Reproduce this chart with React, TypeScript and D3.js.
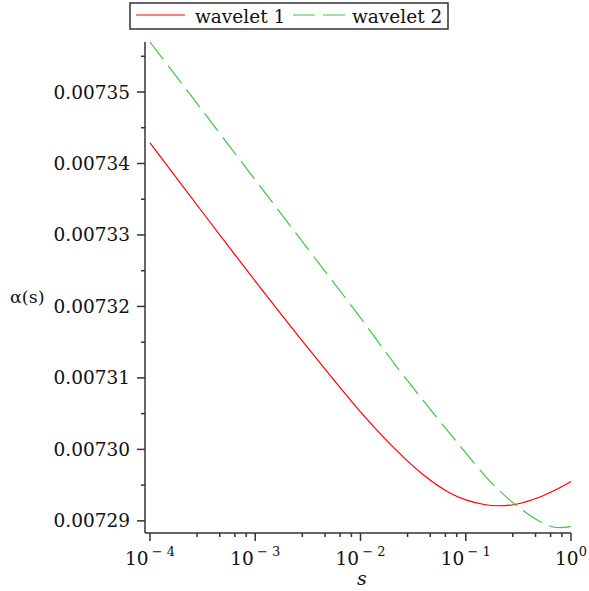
import React from "react";
import * as d3 from "d3";

const sValues = [1e-4, 3e-4, 1e-3, 3e-3, 1e-2, 0.02, 0.04, 0.07, 0.1, 0.15, 0.2, 0.3, 0.5, 0.7, 1];
const wavelet1 = [0.0073429, 0.0073336, 0.00732355, 0.00731463, 0.00730524, 0.00730046, 0.00729638, 0.00729394, 0.00729294, 0.00729229, 0.00729211, 0.00729232, 0.0072933, 0.00729427, 0.00729552];
const wavelet2 = [0.007357, 0.0073478, 0.0073377, 0.0073285, 0.0073184, 0.0073124, 0.0073067, 0.0073023, 0.0072995, 0.0072964, 0.0072945, 0.0072922, 0.00728995, 0.0072891, 0.0072892];
const yTicks = [0.00729, 0.0073, 0.00731, 0.00732, 0.00733, 0.00734, 0.00735];
const yTickLabels = ["0.00729", "0.00730", "0.00731", "0.00732", "0.00733", "0.00734", "0.00735"];
const yMinorTicks = [0.007295, 0.007305, 0.007315, 0.007325, 0.007335, 0.007345, 0.007355];
const xExponents = [-4, -3, -2, -1, 0];
const minorMultipliers = [2.8, 4.6, 6.4, 8.2];
const legendLabels = ["wavelet 1", "wavelet 2"];

const FONT = "DejaVu Serif";

export default function App() {
  const W = 589, H = 591;
  const x = d3.scaleLog().domain([1e-4, 1]).range([150, 571]);
  const y = d3.scaleLinear().domain([0.0072883, 0.007357]).range([533, 42]);
  const axisX = 145;
  const axisY = 533;

  const line = d3
    .line<number>()
    .x((_, i) => x(sValues[i]))
    .y((d) => y(d))
    .curve(d3.curveCatmullRom.alpha(0.5));

  const minorX: number[] = [];
  xExponents.slice(0, -1).forEach((e) => {
    minorMultipliers.forEach((m) => minorX.push(m * Math.pow(10, e)));
  });

  const axisColor = "#333";
  const green = "#3cc83c";

  return (
    <svg width={W} height={H} style={{ position: "absolute", left: 0, top: 0 }}>
      <rect x={0} y={0} width={W} height={H} fill="white" />
      {/* curves */}
      <path d={line(wavelet1) || ""} fill="none" stroke="#ff0000" strokeWidth={1.2} />
      <path d={line(wavelet2) || ""} fill="none" stroke={green} strokeWidth={1.2} strokeDasharray="22,8" />

      {/* y axis */}
      <line x1={axisX} x2={axisX} y1={y.range()[1]} y2={axisY} stroke={axisColor} strokeWidth={1.5} />
      {yTicks.map((t, i) => (
        <g key={"yt" + i}>
          <line x1={axisX - 8} x2={axisX} y1={y(t)} y2={y(t)} stroke={axisColor} strokeWidth={1.5} />
          <text x={130} y={y(t) + 6.5} textAnchor="end" fontFamily={FONT} fontSize={18.5} fill="#111">
            {yTickLabels[i]}
          </text>
        </g>
      ))}
      {yMinorTicks.map((t, i) => (
        <line key={"ym" + i} x1={axisX - 4} x2={axisX} y1={y(t)} y2={y(t)} stroke={axisColor} strokeWidth={1.5} />
      ))}

      {/* x axis */}
      <line x1={axisX} x2={x(1)} y1={axisY} y2={axisY} stroke={axisColor} strokeWidth={1.5} />
      {xExponents.map((e) => {
        const v = Math.pow(10, e);
        return (
          <g key={"xt" + e}>
            <line x1={x(v)} x2={x(v)} y1={axisY} y2={axisY + 8} stroke={axisColor} strokeWidth={1.5} />
            <text x={x(v)} y={565} textAnchor="middle" fontFamily={FONT} fontSize={18.5} fill="#111">
              10
              <tspan dx={e === 0 ? 0 : 3} dy={-9} fontSize={13}>
                {e === 0 ? "0" : "\u2212 " + Math.abs(e)}
              </tspan>
            </text>
          </g>
        );
      })}
      {minorX.map((v, i) => (
        <line key={"xm" + i} x1={x(v)} x2={x(v)} y1={axisY} y2={axisY + 4} stroke={axisColor} strokeWidth={1.5} />
      ))}
      <text x={362} y={585} textAnchor="middle" fontFamily={FONT} fontStyle="italic" fontSize={19} fill="#111">
        s
      </text>
      <text x={10} y={303} fontFamily={FONT} fontSize={17.5} fill="#111">
        α(s)
      </text>

      {/* legend */}
      <rect x={130} y={3} width={318} height={26} fill="white" stroke={axisColor} strokeWidth={1.5} />
      <line x1={136} x2={185} y1={15} y2={15} stroke="#ff0000" strokeWidth={1.2} />
      <text x={195} y={23} fontFamily={FONT} fontSize={18.5} fill="#111">
        {legendLabels[0]}
      </text>
      <line x1={293} x2={345} y1={15} y2={15} stroke={green} strokeWidth={1.2} strokeDasharray="22,8" />
      <text x={352} y={23} fontFamily={FONT} fontSize={18.5} fill="#111">
        {legendLabels[1]}
      </text>
    </svg>
  );
}
